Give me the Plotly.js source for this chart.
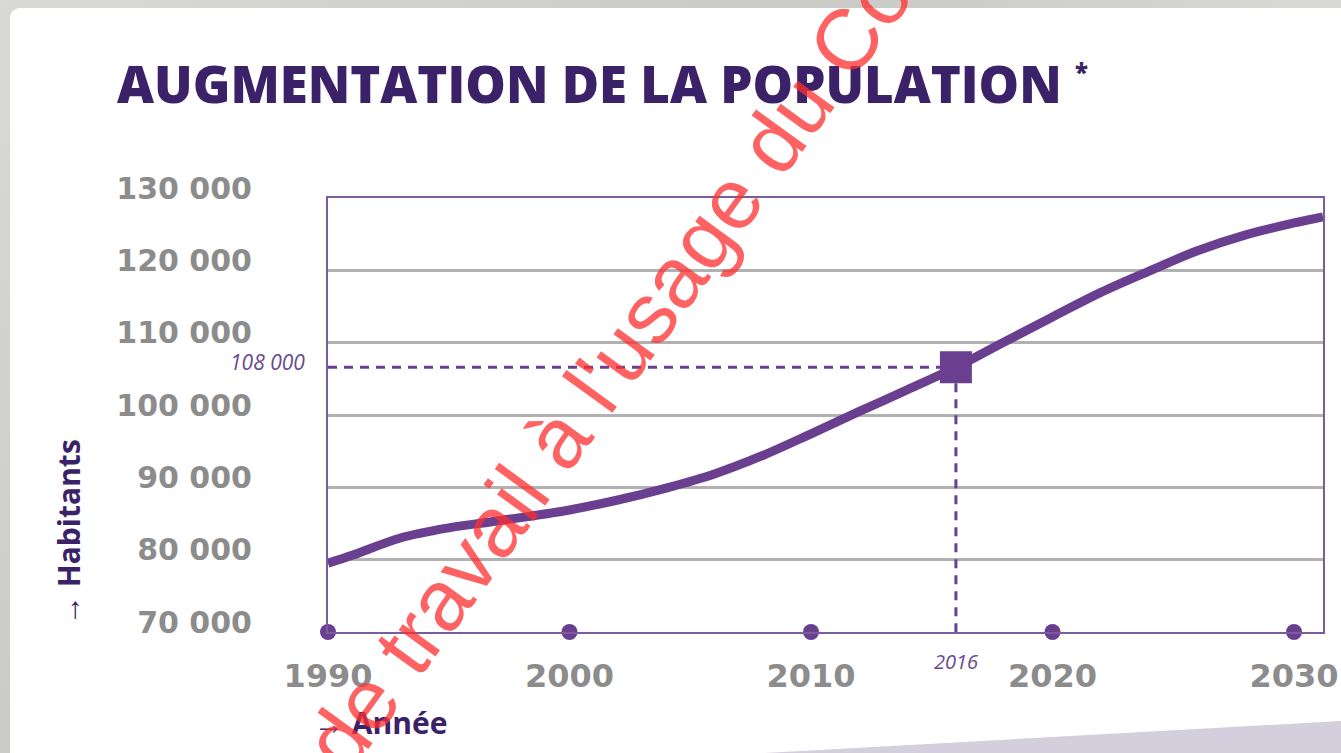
<!DOCTYPE html>
<html>
<head>
<meta charset="utf-8">
<script src="https://cdn.plot.ly/plotly-3.0.1.min.js"></script>
<style>
  html, body { margin:0; padding:0; width:1341px; height:753px; overflow:hidden; }
  body { background: linear-gradient(135deg, #d9d9d7 0%, #c9c9c6 40%, #dcdcda 70%, #cfcfcc 100%); position:relative; }
  #card { position:absolute; left:10px; top:8px; right:0; bottom:0; background:#ffffff; border-top-left-radius:10px; }
  #band { position:absolute; left:0; top:0; width:1341px; height:753px; background:#d3cfdc; clip-path: polygon(765px 753px, 1341px 721px, 1341px 753px); }
  #chart { position:absolute; left:0; top:0; width:1341px; height:753px; }
</style>
</head>
<body>
<div id="card"></div>
<div id="band"></div>
<div id="chart"></div>
<script>
// ---- data ----
const years = [1990, 1991, 1993, 1995, 1997, 2000, 2002, 2004, 2006, 2008, 2010, 2012, 2014, 2016, 2018, 2020, 2022, 2024, 2026, 2028, 2030, 2031.2];
const population = [79500, 80600, 83000, 84400, 85350, 86870, 88250, 89900, 91850, 94400, 97400, 100500, 103500, 106600, 110100, 113550, 116950, 119900, 122700, 124900, 126550, 127400];
const tickYears = [1990, 2000, 2010, 2020, 2030];
const tickYearLabels = ["1990", "2000", "2010", "2020", "2030"];
const yTickValues = [70000, 80000, 90000, 100000, 110000, 120000, 130000];
const yTickLabels = ["70 000", "80 000", "90 000", "100 000", "110 000", "120 000", "130 000"];
const highlightYear = 2016;
const highlightValue = 106600;
const highlightLabel = "108 000";
const highlightYearLabel = "2016";
const xRange = [1990, 2031.2];
const yRange = [70000, 130000];

const purple = "#6a3f90";
const darkPurple = "#3b2268";
const gray = "#8c8c8c";

const traces = [
  { // horizontal dashed guide
    x: [xRange[0], highlightYear], y: [highlightValue, highlightValue],
    mode: "lines", line: {color: purple, width: 3, dash: "9px,7px"},
    hoverinfo: "skip", showlegend: false
  },
  { // vertical dashed guide
    x: [highlightYear, highlightYear], y: [highlightValue, yRange[0]],
    mode: "lines", line: {color: purple, width: 3, dash: "9px,7px"},
    hoverinfo: "skip", showlegend: false
  },
  { // population curve
    x: years, y: population, mode: "lines",
    line: {color: purple, width: 9, shape: "spline", smoothing: 1},
    showlegend: false
  },
  { // highlighted point
    x: [highlightYear], y: [highlightValue], mode: "markers",
    marker: {symbol: "square", size: 30, color: purple, line: {color: purple, width: 2}},
    showlegend: false
  },
  { // dots on the x axis
    x: tickYears, y: tickYears.map(() => yRange[0]), mode: "markers",
    marker: {symbol: "circle", size: 16, color: purple},
    cliponaxis: false, showlegend: false
  }
];

const layout = {
  width: 1341, height: 753,
  paper_bgcolor: "rgba(0,0,0,0)", plot_bgcolor: "rgba(0,0,0,0)",
  margin: {l: 328, r: 18, t: 198, b: 121},
  title: {
    text: "AUGMENTATION DE LA POPULATION <sup><span style=\"font-size:24px\">*</span></sup>",
    x: 117/1341, xanchor: "left", xref: "container",
    y: 1 - 85/753, yanchor: "middle", yref: "container",
    font: {family: "Open Sans", size: 51, weight: 800, color: darkPurple}
  },
  xaxis: {
    range: xRange, tickvals: tickYears, ticktext: tickYearLabels,
    showgrid: false, zeroline: false,
    showline: true, mirror: true, linecolor: "#7a5b9c", linewidth: 2,
    ticks: "", ticklabelstandoff: 15,
    tickfont: {family: "DejaVu Sans", size: 32, weight: "bold", color: gray}
  },
  yaxis: {
    range: yRange, tickvals: yTickValues, ticktext: yTickLabels,
    showgrid: true, gridcolor: "#b1b1b1", gridwidth: 3, zeroline: false,
    showline: true, mirror: true, linecolor: "#7a5b9c", linewidth: 2,
    ticks: "", ticklabelstandoff: 68, ticklabelshift: -10,
    tickfont: {family: "DejaVu Sans", size: 30, weight: "bold", color: gray}
  },
  annotations: [
    {text: highlightLabel, xref: "paper", x: -0.021, xanchor: "right",
     yref: "y", y: highlightValue, yanchor: "middle", yshift: 5, showarrow: false,
     font: {family: "Open Sans", size: 21, style: "italic", color: "#6a4a90"}},
    {text: highlightYearLabel, xref: "x", x: highlightYear, xanchor: "center",
     yref: "paper", y: -0.069, yanchor: "middle", showarrow: false,
     font: {family: "Open Sans", size: 20, style: "italic", color: "#6a4a90"}},
    {text: "→ Habitants", xref: "paper", x: (68-328)/995, xanchor: "center",
     yref: "paper", y: (632-532)/434, yanchor: "middle", textangle: -90, showarrow: false,
     font: {family: "Open Sans", size: 30, weight: "bold", color: darkPurple}},
    {text: "→ Année", xref: "paper", x: (312-328)/995, xanchor: "left",
     yref: "paper", y: (632-722)/434, yanchor: "middle", showarrow: false,
     font: {family: "Open Sans", size: 30, weight: "bold", color: darkPurple}},
    {text: "de travail à l'usage du Co", xref: "paper", x: (608-328)/995, xanchor: "center",
     yref: "paper", y: (632-368)/434, yanchor: "middle", textangle: -54, showarrow: false,
     font: {family: "Liberation Sans", size: 86, color: "rgba(255,45,45,0.75)"}}
  ]
};

Plotly.newPlot("chart", traces, layout, {displayModeBar: false, staticPlot: true});
</script>
</body>
</html>
